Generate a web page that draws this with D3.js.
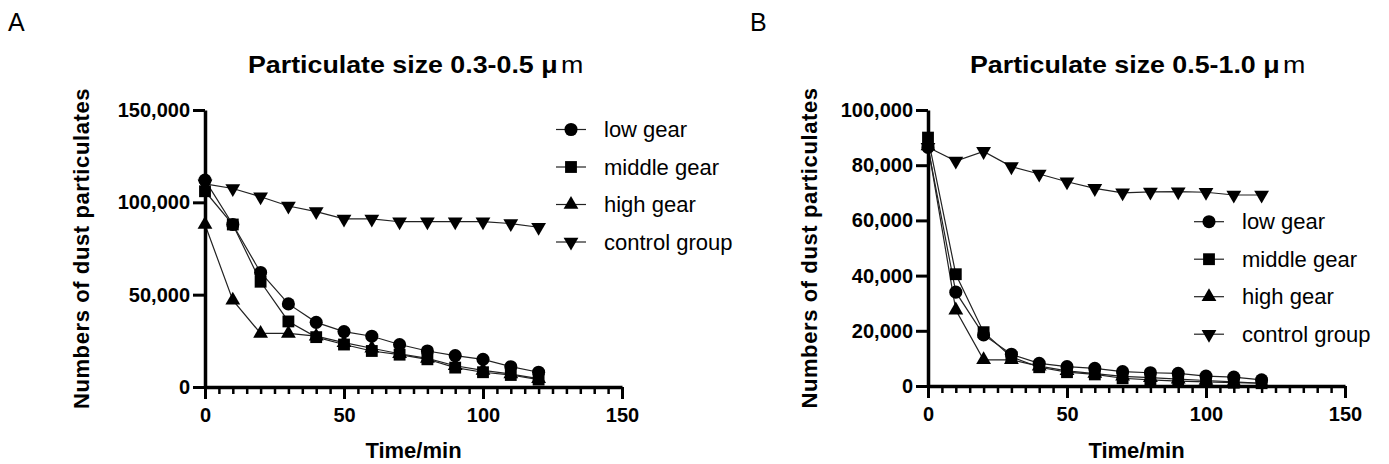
<!DOCTYPE html>
<html>
<head>
<meta charset="utf-8">
<script src="https://cdn.jsdelivr.net/npm/d3@7"></script>
<style>
  body { margin: 0; background: #fff; }
  svg { display: block; font-family: "Liberation Sans", Arial, sans-serif; }
</style>
</head>
<body>
<script>
// Data
const times = [0, 10, 20, 30, 40, 50, 60, 70, 80, 90, 100, 110, 120];
const seriesNames = ["low gear", "middle gear", "high gear", "control group"];

const lowA  = [112000, 88000, 62000, 45000, 35000, 30000, 27500, 23000, 19500, 17000, 15000, 11000, 8000];
const midA  = [106000, 88000, 57000, 35500, 27000, 23000, 19500, 17500, 15000, 10500, 8000, 6500, 4000];
const highA = [88000, 47000, 29000, 29000, 27500, 24000, 21000, 18000, 15500, 11500, 9000, 7000, 4500];
const ctrlA = [110000, 107500, 103000, 98000, 95000, 91000, 91000, 89500, 89500, 89500, 89500, 88500, 86500];

const lowB  = [86500, 34000, 18500, 11500, 8200, 7000, 6400, 5200, 4800, 4600, 3600, 3200, 2200];
const midB  = [90000, 40500, 19500, 10500, 6800, 5000, 4200, 2800, 2200, 1800, 1500, 1200, 1000];
const highB = [87000, 27500, 9500, 9500, 7200, 5500, 4500, 3500, 3000, 2500, 2000, 1500, 1000];
const ctrlB = [86500, 81500, 85000, 79500, 76800, 74000, 71600, 70000, 70300, 70400, 70200, 69200, 69200];

const xTicks = [0, 50, 100, 150];
const yTicksA = [0, 50000, 100000, 150000];
const yTicksB = [0, 20000, 40000, 60000, 80000, 100000];

const width = 1389;
const height = 464;

const svg = d3.select("body")
  .append("svg")
  .attr("width", width)
  .attr("height", height);

svg.append("rect").attr("width", width).attr("height", height).attr("fill", "#fff");

// marker shapes
const shapes = [
  d3.symbol().type(d3.symbolCircle).size(135),
  d3.symbol().type(d3.symbolSquare).size(140),
  d3.symbol().type(d3.symbolTriangle).size(95),
  d3.symbol().type(d3.symbolTriangle).size(95)
];
const rotations = [0, 0, 0, 180];

function styleTicks(a) {
  a.selectAll("text")
    .attr("font-size", 20).attr("font-weight", "bold").attr("fill", "#000")
    .attr("font-family", "Liberation Sans, Arial, sans-serif");
}

function drawPanel(opt) {
  const x = d3.scaleLinear().domain([0, 150]).range([opt.left, opt.right]);
  const y = d3.scaleLinear().domain([0, opt.yMax]).range([opt.bottom, opt.top]);
  const g = svg.append("g");

  // panel letter
  g.append("text")
    .attr("x", opt.letterX).attr("y", 31)
    .attr("font-size", 25)
    .text(opt.letter);

  // title, stretched sideways like the original
  const tg = g.append("g");
  const title = tg.append("text")
    .attr("x", 0).attr("y", 0)
    .attr("font-size", 23)
    .attr("font-weight", "bold");
  title.append("tspan").text(opt.title + " \u03bc");
  title.append("tspan").attr("dx", 3).attr("font-weight", "normal").text("m");
  const tw = title.node().getComputedTextLength();
  const sx = 332 / tw;
  tg.attr("transform", `translate(${opt.titleX - 166},73) scale(${sx},1)`);

  // series lines + markers
  opt.series.forEach(vals => {
    const pts = times.map((t, j) => [t, vals[j]]);
    g.append("path")
      .datum(pts)
      .attr("fill", "none")
      .attr("stroke", "#222")
      .attr("stroke-width", 1.2)
      .attr("d", d3.line().x(d => x(d[0])).y(d => y(d[1])));
  });
  opt.series.forEach((vals, i) => {
    g.selectAll(null)
      .data(times.map((t, j) => [t, vals[j]]))
      .enter()
      .append("path")
      .attr("d", shapes[i])
      .attr("fill", "#000")
      .attr("transform", d => `translate(${x(d[0])},${y(d[1])}) rotate(${rotations[i]})`);
  });

  // minor x ticks
  const minorTicks = d3.range(0, 151, 5).filter(v => v % 50 !== 0);
  g.append("g")
    .attr("transform", `translate(0,${opt.bottom})`)
    .call(d3.axisBottom(x).tickValues(minorTicks).tickSize(7).tickFormat(""))
    .call(a => a.select(".domain").remove())
    .call(a => a.selectAll("line").attr("stroke", "#000").attr("stroke-width", 2.5));

  // x axis
  g.append("g")
    .attr("transform", `translate(0,${opt.bottom})`)
    .call(d3.axisBottom(x).tickValues(xTicks).tickSize(12).tickSizeOuter(0).tickPadding(9))
    .call(a => a.select(".domain").attr("stroke", "#000").attr("stroke-width", 3.5))
    .call(a => a.selectAll("line").attr("stroke", "#000").attr("stroke-width", 3))
    .call(styleTicks);

  // y axis
  g.append("g")
    .attr("transform", `translate(${opt.left},0)`)
    .call(d3.axisLeft(y).tickValues(opt.yTicks).tickSize(12).tickSizeOuter(0).tickPadding(3)
      .tickFormat(d3.format(",")))
    .call(a => a.select(".domain").attr("stroke", "#000").attr("stroke-width", 3.5))
    .call(a => a.selectAll("line").attr("stroke", "#000").attr("stroke-width", 3))
    .call(styleTicks);

  // axis titles
  g.append("text")
    .attr("x", (opt.left + opt.right) / 2)
    .attr("y", 458)
    .attr("text-anchor", "middle")
    .attr("font-size", 22)
    .attr("font-weight", "bold")
    .text("Time/min");

  g.append("text")
    .attr("transform", `translate(${opt.yTitleX},${(opt.top + opt.bottom) / 2}) rotate(-90)`)
    .attr("text-anchor", "middle")
    .attr("font-size", 22)
    .attr("font-weight", "bold")
    .attr("letter-spacing", 0.6)
    .text("Numbers of dust particulates");

  // legend
  const lg = g.append("g");
  seriesNames.forEach((name, i) => {
    const ly = opt.legendY + i * 37.5;
    lg.append("line")
      .attr("x1", opt.legendX - 15).attr("x2", opt.legendX + 15)
      .attr("y1", ly).attr("y2", ly)
      .attr("stroke", "#222").attr("stroke-width", 1.2);
    lg.append("path")
      .attr("d", shapes[i])
      .attr("fill", "#000")
      .attr("transform", `translate(${opt.legendX},${ly}) rotate(${rotations[i]})`);
    lg.append("text")
      .attr("x", opt.legendX + 33)
      .attr("y", ly)
      .attr("dy", "0.35em")
      .attr("font-size", 22)
      .text(name);
  });
}

drawPanel({
  letter: "A", letterX: 8,
  title: "Particulate size 0.3-0.5", titleX: 414,
  left: 205, right: 622, top: 110, bottom: 387,
  yMax: 150000, yTicks: yTicksA, yTitleX: 89,
  series: [lowA, midA, highA, ctrlA],
  legendX: 571, legendY: 129.5
});

drawPanel({
  letter: "B", letterX: 750,
  title: "Particulate size 0.5-1.0", titleX: 1136,
  left: 928, right: 1345, top: 110, bottom: 386,
  yMax: 100000, yTicks: yTicksB, yTitleX: 817,
  series: [lowB, midB, highB, ctrlB],
  legendX: 1209, legendY: 221.7
});
</script>
</body>
</html>
